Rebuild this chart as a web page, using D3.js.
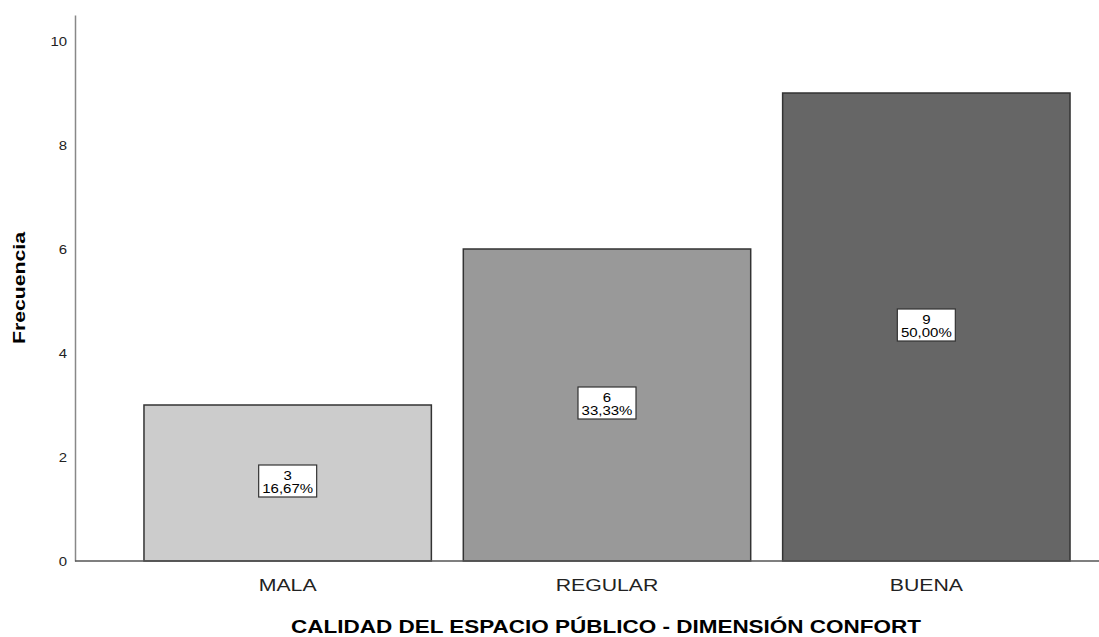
<!DOCTYPE html>
<html>
<head>
<meta charset="utf-8">
<script src="https://cdn.jsdelivr.net/npm/d3@7"></script>
<style>
  body { margin: 0; background: #fff; }
  svg { font-family: "Liberation Sans", Arial, sans-serif; }
</style>
</head>
<body>
<div id="chart"></div>
<script>
// categories and counts
var categories = ["MALA", "REGULAR", "BUENA"];
var counts = [3, 6, 9];
var percents = ["16,67%", "33,33%", "50,00%"];
var fills = ["#cccccc", "#999999", "#666666"];
var yTicks = [0, 2, 4, 6, 8, 10];

var width = 1099, height = 637;
var margin = {top: 15, left: 75, bottom: 76};
var stretch = 1.25; // text in the original looks wider than plain Arial

var svg = d3.select("#chart")
  .append("svg")
    .attr("width", width)
    .attr("height", height);

var x = d3.scaleBand()
  .domain(categories)
  .range([margin.left, 1139])
  .paddingInner(0.1)
  .paddingOuter(0.216);

var y = d3.scaleLinear()
  .domain([0, 10.5])
  .range([height - margin.bottom, margin.top]);

// widen a text element in place
function widen(sel, s) {
  sel.each(function() {
    var t = d3.select(this);
    var tx = +t.attr("x") || 0, ty = +t.attr("y") || 0;
    t.attr("x", 0).attr("y", 0)
      .attr("transform", "translate(" + tx + "," + ty + ") scale(" + s + ",1)");
  });
}

// y axis
var yAxis = svg.append("g")
  .attr("transform", "translate(" + margin.left + ",0)")
  .call(d3.axisLeft(y).tickValues(yTicks).tickSize(0).tickPadding(8));
yAxis.select(".domain").attr("stroke", "#888").attr("stroke-width", 1.5);
yAxis.selectAll("text").attr("font-size", 13).attr("fill", "#222").attr("dy", "0.35em");
widen(yAxis.selectAll("text"), 1.15);

// bars
svg.selectAll("rect.bar")
  .data(counts)
  .enter()
  .append("rect")
    .attr("class", "bar")
    .attr("x", function(d, i) { return x(categories[i]); })
    .attr("y", function(d) { return y(d); })
    .attr("width", x.bandwidth())
    .attr("height", function(d) { return y(0) - y(d); })
    .attr("fill", function(d, i) { return fills[i]; })
    .attr("stroke", "#333")
    .attr("stroke-width", 1.5);

// x axis
var xAxis = svg.append("g")
  .attr("transform", "translate(0," + y(0) + ")")
  .call(d3.axisBottom(x).tickSize(0).tickPadding(0));
xAxis.select(".domain").attr("stroke", "#555").attr("stroke-width", 1.5)
  .attr("d", "M" + margin.left + ",0H" + width);
xAxis.selectAll("text").attr("font-size", 17).attr("fill", "#222")
  .attr("dy", null).attr("y", 30);
widen(xAxis.selectAll("text"), stretch);

// value labels
var labels = svg.selectAll("g.lab")
  .data(counts)
  .enter()
  .append("g")
    .attr("class", "lab")
    .attr("transform", function(d, i) {
      return "translate(" + (x(categories[i]) + x.bandwidth() / 2) + "," + ((y(d) + y(0)) / 2 - 2) + ")";
    });
labels.append("rect")
  .attr("x", -29).attr("y", -16)
  .attr("width", 58).attr("height", 32)
  .attr("fill", "#fff")
  .attr("stroke", "#333")
  .attr("stroke-width", 1.2);
labels.append("text")
  .attr("text-anchor", "middle")
  .attr("y", -1)
  .attr("font-size", 12)
  .text(function(d) { return d; });
labels.append("text")
  .attr("text-anchor", "middle")
  .attr("y", 12)
  .attr("font-size", 12)
  .text(function(d, i) { return percents[i]; });
widen(labels.selectAll("text"), stretch);

// axis titles
svg.append("text")
  .attr("transform", "translate(606,633) scale(" + stretch + ",1)")
  .attr("text-anchor", "middle")
  .attr("font-size", 18).attr("font-weight", "bold")
  .text("CALIDAD DEL ESPACIO PÚBLICO - DIMENSIÓN CONFORT");

svg.append("text")
  .attr("transform", "translate(25,288) rotate(-90) scale(" + stretch + ",1)")
  .attr("text-anchor", "middle")
  .attr("font-size", 17).attr("font-weight", "bold")
  .text("Frecuencia");
</script>
</body>
</html>
